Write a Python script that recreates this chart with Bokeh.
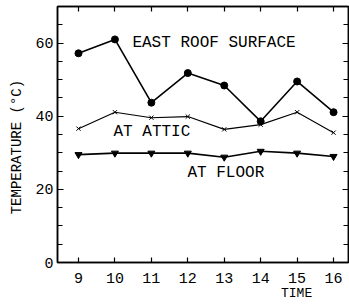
from bokeh.plotting import figure
from bokeh.models import Range1d, LinearAxis, FixedTicker, CustomJSTickFormatter
from bokeh.core.properties import value
from bokeh.embed import file_html
from bokeh.resources import INLINE

hours = [9, 10, 11, 12, 13, 14, 15, 16]
east_roof = [57.2, 61.0, 43.7, 51.8, 48.4, 38.6, 49.5, 41.1]
attic = [36.6, 41.1, 39.6, 39.9, 36.4, 37.7, 41.1, 35.5]
floor = [29.5, 29.9, 29.9, 29.9, 28.8, 30.4, 29.9, 29.0]
series_names = ["EAST ROOF SURFACE", "AT ATTIC", "AT FLOOR"]
y_ticks = [0, 20, 40, 60]
y_minor = [5, 10, 15, 25, 30, 35, 45, 50, 55, 65]

FONT = "Liberation Mono"
NB = "\u00a0"

p = figure(width=349, height=304, output_backend="svg", toolbar_location=None,
           x_range=Range1d(8.424, 16.41), y_range=Range1d(0, 70),
           x_axis_location=None, y_axis_location=None,
           min_border_left=57, min_border_right=1, min_border_top=6, min_border_bottom=42)
p.grid.visible = False
p.outline_line_color = "black"
p.outline_line_width = 1.5
p.background_fill_color = "white"
p.border_fill_color = "white"

def mk_axis(ticks, minor, show_labels):
    ax = LinearAxis(ticker=FixedTicker(ticks=ticks, minor_ticks=minor))
    ax.major_tick_in = 6
    ax.major_tick_out = 0
    ax.minor_tick_in = 5 if minor else 0
    ax.minor_tick_out = 0
    ax.axis_line_color = "black"
    ax.axis_line_width = 1.5
    ax.major_tick_line_width = 1.2
    ax.minor_tick_line_width = 1.2
    if show_labels:
        ax.major_label_text_font = FONT
        ax.major_label_text_font_size = "15px"
        ax.major_label_text_color = "black"
    else:
        ax.formatter = CustomJSTickFormatter(code="return ''")
        ax.major_label_text_font_size = "1px"
        ax.major_label_standoff = 0
    return ax

left = mk_axis(y_ticks, y_minor, True)
left.major_label_standoff = 4
left.axis_label = "TEMPERATURE (°C)" + NB * 3
left.axis_label_text_font = FONT
left.axis_label_text_font_size = "14px"
left.axis_label_text_font_style = "normal"
left.axis_label_text_color = "black"
left.axis_label_standoff = 7
p.add_layout(left, "left")

right = mk_axis(y_ticks, y_minor, False)
p.add_layout(right, "right")

bottom = mk_axis(hours, [], True)
bottom.major_tick_in = 5
bottom.major_label_standoff = 10
bottom.axis_label = NB * 24 + "TIME"
bottom.axis_label_text_font = FONT
bottom.axis_label_text_font_size = "13px"
bottom.axis_label_text_font_style = "normal"
bottom.axis_label_text_color = "black"
bottom.axis_label_standoff = 0
p.add_layout(bottom, "below")

top = mk_axis(hours, [], False)
top.major_tick_in = 5
p.add_layout(top, "above")

# series
p.line(hours, east_roof, line_color="black", line_width=1.6)
p.scatter(hours, east_roof, marker="circle", size=7, fill_color="black", line_color="black")
p.line(hours, attic, line_color="black", line_width=1.1)
p.scatter(hours, attic, marker="x", size=6, line_color="black", line_width=1)
p.line(hours, floor, line_color="black", line_width=1.6)
p.scatter(hours, floor, marker="inverted_triangle", size=7, fill_color="black", line_color="black")

label_x = [10.48, 9.96, 11.99]
label_y = [59.9, 35.8, 24.6]
p.text(x=label_x, y=label_y, text=series_names, text_font=value(FONT), text_font_size="16px",
       text_baseline="middle", text_align="left", text_color="black")

open("out.html", "w").write(file_html(p, INLINE))
